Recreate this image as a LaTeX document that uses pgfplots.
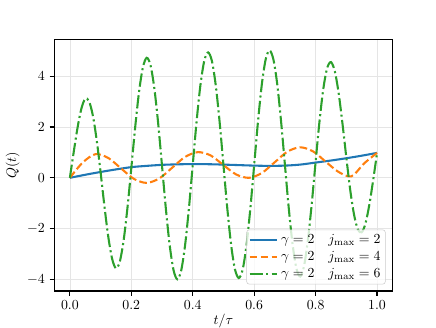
\documentclass[border=0pt]{standalone}
\usepackage{pgfplots}
\pgfplotsset{compat=1.18}
\definecolor{tabblue}{HTML}{1F77B4}
\definecolor{taborange}{HTML}{FF7F0E}
\definecolor{tabgreen}{HTML}{2CA02C}
\pgfplotsset{
  mpllegend/.style={
    legend image code/.code={\draw[##1] (0pt,0pt) -- (20pt,0pt);},
  },
}
\begin{document}
\begin{tikzpicture}
\useasboundingbox (-0.545in,-0.36in) rectangle (3.815in,2.91in);
\begin{axis}[
  scale only axis, width=3.379in, height=2.518in,
  xmin=-0.05, xmax=1.05, ymin=-4.45, ymax=5.45,
  xtick={0,0.2,0.4,0.6,0.8,1.0},
  ytick={-4,-2,0,2,4},
  xtick pos=bottom, ytick pos=left,
  tick align=outside, major tick length=3.5pt,
  tick style={black, line width=0.8pt},
  axis line style={line width=0.8pt},
  grid=major, major grid style={black!10, line width=0.5pt},
  xticklabel style={/pgf/number format/.cd, fixed, fixed zerofill, precision=1},
  xlabel={$t/\tau$}, ylabel={$Q(t)$},
  xlabel style={yshift=3.5pt},
  ylabel style={yshift=-1.5pt},
  every axis plot/.append style={line width=1.5pt, no markers, smooth},
  legend cell align=left,
  mpllegend,
  legend style={at={(0.98,0.026)}, anchor=south east,
    fill=white, fill opacity=0.8, text opacity=1, draw=black!20,
    rounded corners=2pt, row sep=0pt, inner sep=1.5pt},
]
% j_max = 2
\addplot[tabblue] coordinates {
  (0,0) (0.05,0.12) (0.1,0.23) (0.15,0.33) (0.2,0.42) (0.25,0.47)
  (0.3,0.51) (0.35,0.53) (0.4,0.54) (0.45,0.535) (0.5,0.52) (0.55,0.5)
  (0.6,0.48) (0.65,0.47) (0.7,0.48) (0.75,0.52) (0.8,0.6) (0.85,0.68)
  (0.9,0.77) (0.95,0.87) (1.0,0.98)
};
\addlegendentry{$\gamma=2\quad j_{\max}=2$}
% j_max = 4
\addplot[taborange, dash pattern=on 5.55pt off 2.4pt] coordinates {
  (0,0) (0.0417,0.6) (0.0833,0.93) (0.125,0.78) (0.1667,0.37) (0.2083,-0.04)
  (0.25,-0.2) (0.2917,-0.02) (0.3333,0.40) (0.375,0.82) (0.4167,1.01)
  (0.4583,0.88) (0.5,0.5) (0.5417,0.13) (0.5833,0.0) (0.625,0.19)
  (0.6667,0.61) (0.7083,1.03) (0.75,1.2) (0.7917,1.04) (0.8333,0.63)
  (0.875,0.23) (0.9167,0.06) (0.9583,0.57) (1.0,0.98)
};
\addlegendentry{$\gamma=2\quad j_{\max}=4$}
% j_max = 6
\addplot[tabgreen, dash pattern=on 9.6pt off 2.4pt on 1.5pt off 2.4pt] coordinates {
  (0,0) (0.0125,1.01) (0.025,1.97) (0.0375,2.72) (0.05,3.11) (0.0625,3.01)
  (0.075,2.44) (0.0875,1.47) (0.1,0.225) (0.1125,-1.11) (0.125,-2.31)
  (0.1375,-3.18) (0.15,-3.56) (0.1625,-3.30) (0.175,-2.46) (0.1875,-1.18)
  (0.2,0.375) (0.2125,1.97) (0.225,3.36) (0.2375,4.33) (0.25,4.72)
  (0.2625,4.43) (0.275,3.52) (0.2875,2.14) (0.3,0.475) (0.3125,-1.21)
  (0.325,-2.65) (0.3375,-3.63) (0.35,-3.99) (0.3625,-3.64) (0.375,-2.66)
  (0.3875,-1.21) (0.4,0.5) (0.4125,2.21) (0.425,3.64) (0.4375,4.60)
  (0.45,4.93) (0.4625,4.59) (0.475,3.63) (0.4875,2.20) (0.5,0.5)
  (0.5125,-1.20) (0.525,-2.64) (0.5375,-3.60) (0.55,-3.94) (0.5625,-3.61)
  (0.575,-2.65) (0.5875,-1.21) (0.6,0.5) (0.6125,2.22) (0.625,3.68)
  (0.6375,4.66) (0.65,5.01) (0.6625,4.66) (0.675,3.69) (0.6875,2.23)
  (0.7,0.525) (0.7125,-1.18) (0.725,-2.61) (0.7375,-3.56) (0.75,-3.88)
  (0.7625,-3.46) (0.775,-2.44) (0.7875,-1.01) (0.8,0.625) (0.8125,2.20)
  (0.825,3.49) (0.8375,4.31) (0.85,4.55) (0.8625,4.19) (0.875,3.33)
  (0.8875,2.13) (0.9,0.8) (0.9125,-0.46) (0.925,-1.44) (0.9375,-2.03)
  (0.95,-2.14) (0.9625,-1.79) (0.975,-1.05) (0.9875,-0.08) (1.0,0.98)
};
\addlegendentry{$\gamma=2\quad j_{\max}=6$}
\end{axis}
\end{tikzpicture}
\end{document}
